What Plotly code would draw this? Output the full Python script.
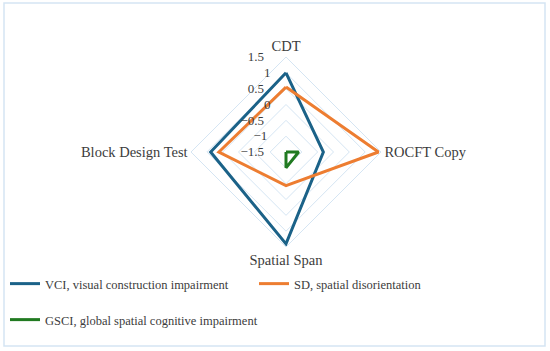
import plotly.graph_objects as go

categories = ["CDT", "ROCFT Copy", "Spatial Span", "Block Design Test"]
vci = [1.0, -0.32, 1.4, 0.88]
sd = [0.55, 1.42, -0.44, 0.62]
gsci = [-1.5, -1.1, -1.0, -1.5]
tick_vals = [-1.5, -1, -0.5, 0, 0.5, 1, 1.5]
tick_text = ["\u22121.5", "\u22121", "\u22120.5", "0", "0.5", "1", "1.5"]

W, H = 550, 351
FONT = "Liberation Serif"
TXT = "#3c3c3c"
TICK_SIZE = 13


def closed(v):
    return list(v) + [v[0]]


def text_width(s, size):
    em = {"\u2212": 0.564, ".": 0.25}
    return sum(em.get(ch, 0.5) for ch in s) * size


def pad_left_of_axis(s, size, gap=14, space_px=8.0):
    # labels are centred on the vertical axis; trailing spaces push them to its left
    w = text_width(s, size)
    n = int(round((w + 2 * gap) / space_px))
    return s + "\u00a0" * n


fig = go.Figure()
fig.add_trace(go.Scatterpolar(r=closed(vci), theta=closed(categories), mode="lines",
                              line=dict(color="#1b6288", width=3),
                              name="VCI, visual construction impairment", legend="legend"))
fig.add_trace(go.Scatterpolar(r=closed(sd), theta=closed(categories), mode="lines",
                              line=dict(color="#ed7d31", width=3),
                              name="SD, spatial disorientation", legend="legend"))
fig.add_trace(go.Scatterpolar(r=closed(gsci), theta=closed(categories), mode="lines",
                              line=dict(color="#217a21", width=3),
                              name="GSCI, global spatial cognitive impairment", legend="legend2"))

cx, cy, R = 286, 152, 95
fig.update_layout(
    width=W, height=H,
    margin=dict(l=0, r=0, t=0, b=0, autoexpand=False),
    paper_bgcolor="white",
    font=dict(family=FONT, color=TXT, size=13),
    polar=dict(
        domain=dict(x=[(cx - R) / W, (cx + R) / W], y=[(H - cy - R) / H, (H - cy + R) / H]),
        gridshape="linear",
        bgcolor="white",
        radialaxis=dict(range=[-1.5, 1.5], tickvals=tick_vals,
                        ticktext=[pad_left_of_axis(t, TICK_SIZE) for t in tick_text],
                        angle=90, tickangle=90, side="counterclockwise",
                        showline=False, ticks="", gridcolor="#d5e5f3", gridwidth=1,
                        tickfont=dict(size=TICK_SIZE, family=FONT, color=TXT)),
        angularaxis=dict(rotation=90, direction="clockwise", showgrid=False,
                         showline=True, linecolor="#d5e5f3", linewidth=1, ticks="",
                         tickfont=dict(size=14.5, family=FONT, color=TXT)),
    ),
    legend=dict(orientation="h", x=5 / W, y=1 - 284 / H, xanchor="left", yanchor="middle",
                entrywidth=204, entrywidthmode="pixels",
                font=dict(size=12.5, family=FONT, color=TXT), bgcolor="rgba(0,0,0,0)"),
    legend2=dict(orientation="h", x=5 / W, y=1 - 320 / H, xanchor="left", yanchor="middle",
                 font=dict(size=12.5, family=FONT, color=TXT), bgcolor="rgba(0,0,0,0)"),
    showlegend=True,
    shapes=[dict(type="rect", xref="paper", yref="paper",
                 x0=4 / W, x1=545 / W, y0=1 - 346 / H, y1=1 - 3 / H,
                 line=dict(color="#d5e5f3", width=1.5), fillcolor="rgba(0,0,0,0)")],
)

fig.write_html("out.html", config={"displayModeBar": False},
               post_script="document.body.style.margin='0';")
